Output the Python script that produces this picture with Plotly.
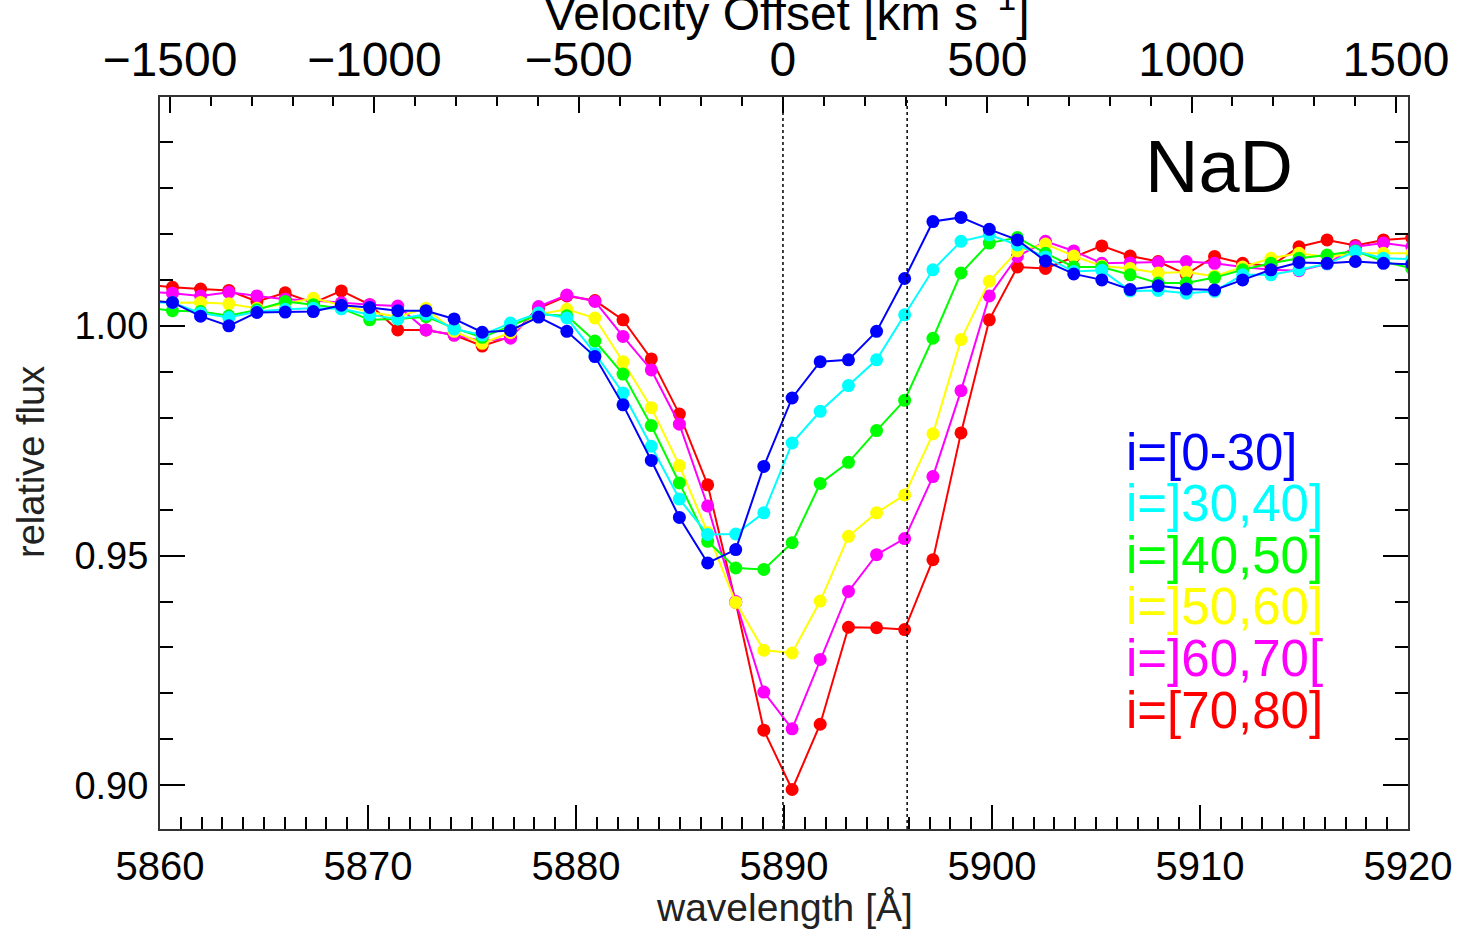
import plotly.graph_objects as go

# ---------------- data ----------------
wavelength = [5859.25, 5860.60, 5861.95, 5863.31, 5864.66, 5866.02, 5867.37, 5868.72,
              5870.08, 5871.43, 5872.79, 5874.14, 5875.49, 5876.85, 5878.20, 5879.56,
              5880.91, 5882.26, 5883.62, 5884.97, 5886.33, 5887.68, 5889.03, 5890.39,
              5891.74, 5893.10, 5894.45, 5895.80, 5897.16, 5898.51, 5899.87, 5901.22,
              5902.57, 5903.93, 5905.28, 5906.64, 5907.99, 5909.34, 5910.70, 5912.05,
              5913.41, 5914.76, 5916.11, 5917.47, 5918.82, 5920.18]

flux_0_30 = [1.0055, 1.0051, 1.0021, 1.0000, 1.0029, 1.0030, 1.0031, 1.0045, 1.0040, 1.0033,
             1.0033, 1.0015, 0.9986, 0.9990, 1.0019, 0.9988, 0.9933, 0.9828, 0.9707, 0.9583,
             0.9484, 0.9513, 0.9694, 0.9843, 0.9922, 0.9926, 0.9988, 1.0103, 1.0227, 1.0236,
             1.0210, 1.0187, 1.0141, 1.0113, 1.0100, 1.0079, 1.0087, 1.0080, 1.0078, 1.0100,
             1.0122, 1.0138, 1.0136, 1.0140, 1.0136, 1.0134]

flux_30_40 = [1.0052, 1.0050, 1.0028, 1.0018, 1.0031, 1.0036, 1.0038, 1.0037, 1.0024, 1.0015,
              1.0025, 0.9993, 0.9980, 1.0006, 1.0028, 1.0017, 0.9940, 0.9854, 0.9738, 0.9623,
              0.9546, 0.9547, 0.9593, 0.9745, 0.9814, 0.9870, 0.9926, 1.0024, 1.0122, 1.0184,
              1.0198, 1.0176, 1.0150, 1.0118, 1.0121, 1.0076, 1.0077, 1.0071, 1.0075, 1.0111,
              1.0111, 1.0122, 1.0135, 1.0162, 1.0147, 1.0145]

flux_40_50 = [1.0040, 1.0033, 1.0031, 1.0022, 1.0035, 1.0053, 1.0046, 1.0038, 1.0013, 1.0015,
              1.0020, 0.9995, 0.9975, 1.0000, 1.0025, 1.0022, 0.9967, 0.9895, 0.9783, 0.9658,
              0.9531, 0.9473, 0.9470, 0.9528, 0.9657, 0.9703, 0.9772, 0.9838, 0.9973, 1.0115,
              1.0180, 1.0192, 1.0158, 1.0128, 1.0128, 1.0111, 1.0093, 1.0093, 1.0105, 1.0122,
              1.0136, 1.0147, 1.0154, 1.0163, 1.0140, 1.0125]

flux_50_60 = [1.0058, 1.0050, 1.0051, 1.0048, 1.0038, 1.0048, 1.0060, 1.0045, 1.0030, 1.0020,
              1.0038, 0.9988, 0.9962, 0.9985, 1.0025, 1.0036, 1.0017, 0.9922, 0.9822, 0.9696,
              0.9550, 0.9398, 0.9294, 0.9288, 0.9401, 0.9542, 0.9593, 0.9632, 0.9765, 0.9970,
              1.0097, 1.0163, 1.0178, 1.0152, 1.0130, 1.0125, 1.0115, 1.0117, 1.0108, 1.0128,
              1.0147, 1.0158, 1.0150, 1.0158, 1.0158, 1.0158]

flux_60_70 = [1.0075, 1.0071, 1.0065, 1.0073, 1.0065, 1.0058, 1.0055, 1.0050, 1.0046, 1.0043,
              0.9991, 0.9980, 0.9967, 0.9973, 1.0042, 1.0067, 1.0053, 0.9977, 0.9904, 0.9786,
              0.9608, 0.9400, 0.9203, 0.9123, 0.9274, 0.9422, 0.9502, 0.9537, 0.9672, 0.9859,
              1.0065, 1.0151, 1.0184, 1.0163, 1.0136, 1.0137, 1.0138, 1.0140, 1.0136, 1.0128,
              1.0122, 1.0120, 1.0135, 1.0172, 1.0180, 1.0172]

flux_70_80 = [1.0090, 1.0084, 1.0080, 1.0077, 1.0053, 1.0072, 1.0050, 1.0076, 1.0046, 0.9991,
              0.9991, 0.9980, 0.9956, 0.9976, 1.0038, 1.0065, 1.0055, 1.0013, 0.9928, 0.9808,
              0.9654, 0.9398, 0.9120, 0.8991, 0.9133, 0.9344, 0.9343, 0.9339, 0.9491, 0.9767,
              1.0013, 1.0128, 1.0125, 1.0150, 1.0174, 1.0152, 1.0140, 1.0112, 1.0151, 1.0136,
              1.0130, 1.0172, 1.0187, 1.0175, 1.0187, 1.0191]

series_labels = ["i=[0-30]", "i=]30,40]", "i=]40,50]", "i=]50,60]", "i=]60,70[", "i=[70,80]"]
series_colors = ["#0000ff", "#00ffff", "#00ff00", "#ffff00", "#ff00ff", "#ff0000"]
series_values = [flux_0_30, flux_30_40, flux_40_50, flux_50_60, flux_60_70, flux_70_80]

nad_lines = [5889.95, 5895.92]          # NaD rest wavelengths (dotted lines)
x_range = [5860, 5920]
y_range = [0.8905, 1.0498]
lambda_ref = 5889.95
c_kms = 299792.458

# ---------------- figure ----------------
W, H = 1466, 929
L, R, T, B = 160, 58, 97, 100
FONT = "Liberation Sans, Arial, sans-serif"

def px_x(px):
    return (px - L) / (W - L - R)

def px_y(py):
    return (H - B - py) / (H - T - B)

velocity = [(w / lambda_ref - 1.0) * c_kms for w in wavelength]
v_range = [(x / lambda_ref - 1.0) * c_kms for x in x_range]

fig = go.Figure()
# draw red first ... blue last (blue on top)
for lab, col, vals in reversed(list(zip(series_labels, series_colors, series_values))):
    fig.add_trace(go.Scatter(
        x=wavelength, y=vals, mode="lines+markers", name=lab,
        line=dict(color=col, width=2),
        marker=dict(color=col, size=13, line=dict(width=0)),
        showlegend=False, cliponaxis=True,
    ))

# invisible copies so that the velocity (top) axis and the right axis are drawn
fig.add_trace(go.Scatter(x=velocity, y=flux_0_30, xaxis="x2", yaxis="y", mode="lines",
                         opacity=0, hoverinfo="skip", showlegend=False))
fig.add_trace(go.Scatter(x=wavelength, y=flux_0_30, xaxis="x", yaxis="y2", mode="lines",
                         opacity=0, hoverinfo="skip", showlegend=False))

for wl in nad_lines:
    fig.add_shape(type="line", xref="x", yref="paper", x0=wl, x1=wl, y0=0, y1=1,
                  line=dict(color="black", width=1.5, dash="dot"))

axis_common = dict(showgrid=False, zeroline=False, showline=True, linecolor="#333333",
                   linewidth=2, ticks="inside", tickcolor="black", tickwidth=1.5)
minor_common = dict(ticks="inside", tickcolor="black", tickwidth=1.5)

fig.update_layout(
    width=W, height=H, autosize=False,
    margin=dict(l=L, r=R, t=T, b=B, pad=0),
    paper_bgcolor="white", plot_bgcolor="white",
    font=dict(family=FONT, color="black"),
    xaxis=dict(range=x_range, tick0=5860, dtick=10, ticklen=24,
               minor=dict(dtick=1, ticklen=12, **minor_common),
               tickfont=dict(size=40), ticklabelstandoff=1, **axis_common),
    xaxis2=dict(range=v_range, overlaying="x", side="top", anchor="y", tick0=0, dtick=500,
                ticklen=16, minor=dict(dtick=100, ticklen=9, **minor_common),
                tickfont=dict(size=48), ticklabelstandoff=0, **axis_common),
    yaxis=dict(range=y_range, tick0=0.9, dtick=0.05, tickformat=".2f", ticklen=25,
               minor=dict(dtick=0.01, ticklen=13, **minor_common),
               tickfont=dict(size=38), ticklabelstandoff=2, **axis_common),
    yaxis2=dict(range=y_range, overlaying="y", side="right", anchor="x", tick0=0.9, dtick=0.05,
                ticklen=25, showticklabels=False,
                minor=dict(dtick=0.01, ticklen=13, **minor_common), **axis_common),
)

# legend as coloured text
for k, (lab, col) in enumerate(zip(series_labels, series_colors)):
    fig.add_annotation(text=lab, xref="paper", yref="paper", x=px_x(1124),
                       y=px_y(452 + 51.6 * k), xanchor="left", yanchor="middle",
                       showarrow=False, font=dict(size=51, color=col, family=FONT))

fig.add_annotation(text="NaD", xref="paper", yref="paper", x=px_x(1219), y=px_y(166),
                   xanchor="center", yanchor="middle", showarrow=False,
                   font=dict(size=74, color="black", family=FONT))

fig.add_annotation(text="wavelength [Å]", xref="paper", yref="paper", x=px_x(784), y=px_y(907),
                   xanchor="center", yanchor="middle", showarrow=False,
                   font=dict(size=39, color="#222222", family=FONT))

fig.add_annotation(text="relative flux", xref="paper", yref="paper", x=px_x(31), y=px_y(462),
                   xanchor="center", yanchor="middle", textangle=-90, showarrow=False,
                   font=dict(size=38, color="#222222", family=FONT))

fig.add_annotation(text="Velocity Offset [km s<sup>−1</sup>]", xref="paper", yref="paper",
                   x=px_x(787), y=px_y(10), xanchor="center", yanchor="middle",
                   showarrow=False, font=dict(size=48, color="black", family=FONT))

fig.write_html("out.html")
